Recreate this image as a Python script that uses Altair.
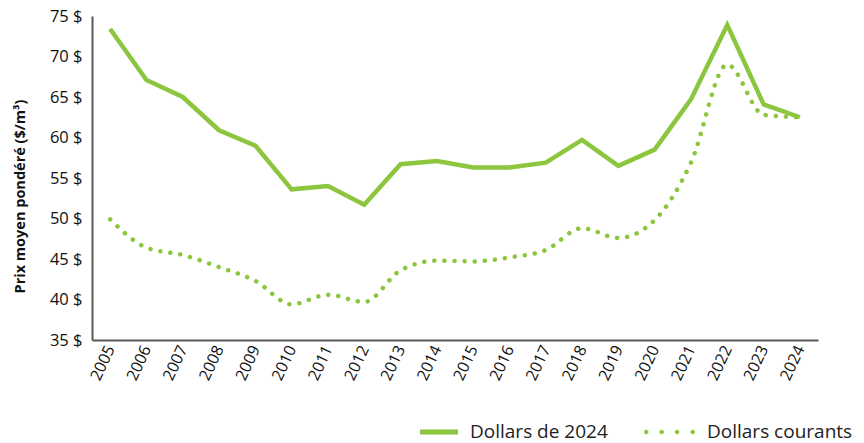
import altair as alt
import pandas as pd

years = [str(y) for y in range(2005, 2025)]
dollars_2024 = [73.4, 67.1, 65.0, 60.9, 59.0, 53.6, 54.0, 51.7, 56.7, 57.1,
                56.3, 56.3, 56.9, 59.7, 56.5, 58.5, 64.7, 73.9, 64.1, 62.5]
dollars_courants = [49.9, 46.4, 45.5, 44.0, 42.3, 39.4, 40.6, 39.7, 43.6, 44.8,
                    44.7, 45.2, 46.1, 48.8, 47.6, 49.8, 56.9, 69.0, 62.8, 62.5]
series = ["Dollars de 2024", "Dollars courants"]

df = pd.DataFrame({
    "year": years * 2,
    "value": dollars_2024 + dollars_courants,
    "series": [series[0]] * len(years) + [series[1]] * len(years),
})

GREEN = "#8cc63f"
FONT = "Open Sans"


def circle(cx, r):
    return f"M{cx - r},0a{r},{r} 0 1,0 {2 * r},0a{r},{r} 0 1,0 {-2 * r},0Z"


SOLID_SYM = "M-0.57,-0.083H0.7V0.083H-0.57Z"
DOT_SYM = "".join(circle(c, 0.075) for c in [-0.925, -0.41, 0.105, 0.625])

x = alt.X("year:O", title=None,
          axis=alt.Axis(labelAngle=-65, labelFontSize=16, labelColor="#111",
                        labelFont=FONT, ticks=False, domainColor="#595959",
                        domainWidth=2, labelPadding=6))
y = alt.Y("value:Q", title="Prix moyen pondéré ($/m³)",
          scale=alt.Scale(domain=[35, 75], nice=False, zero=False),
          axis=alt.Axis(values=list(range(35, 80, 5)), labelExpr="datum.value + ' $'",
                        grid=False, ticks=False, domainColor="#595959", domainWidth=2,
                        labelFontSize=16.5, labelFont=FONT, labelColor="#111",
                        titleFontSize=14.5, titleFont=FONT, titleFontWeight="bold",
                        titleColor="#111", labelPadding=10, titlePadding=22,
                        titleY=180))

solid = alt.Chart(df).transform_filter(alt.datum.series == series[0]).mark_line(
    color=GREEN, strokeWidth=4.5, interpolate="linear", strokeCap="butt"
).encode(x=x, y=y)

dotted = alt.Chart(df).transform_filter(alt.datum.series == series[1]).mark_line(
    color=GREEN, strokeWidth=4.5, interpolate="monotone", strokeCap="round",
    strokeDash=[0.1, 10]
).encode(x=x, y=y)

legend_pts = alt.Chart(df).mark_point(opacity=0, filled=True, size=1, color=GREEN).encode(
    x=x, y=y,
    shape=alt.Shape("series:N", title=None,
                    scale=alt.Scale(domain=series, range=[SOLID_SYM, DOT_SYM]),
                    legend=alt.Legend(orient="none", direction="horizontal",
                                      legendX=315, legendY=386,
                                      symbolSize=3600, symbolFillColor=GREEN,
                                      symbolStrokeColor=GREEN, symbolStrokeWidth=0,
                                      symbolOpacity=1,
                                      labelFontSize=19, labelFont=FONT,
                                      labelColor="#222", columnPadding=36,
                                      labelOffset=3, labelLimit=300)),
)

chart = alt.layer(solid, dotted, legend_pts).properties(
    width=726, height=324,
    autosize=alt.AutoSizeParams(type="none"),
    padding={"left": 84, "top": 8, "right": 38, "bottom": 103},
).configure_view(stroke=None)

chart.save("out.html", embed_options={"renderer": "svg", "actions": False})
